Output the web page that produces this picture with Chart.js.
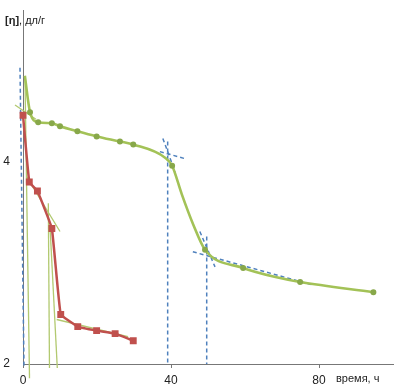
<!DOCTYPE html>
<html>
<head>
<meta charset="utf-8">
<script src="https://cdn.jsdelivr.net/npm/chart.js@4"></script>
<style>
html,body{margin:0;padding:0;background:#fff;}
#wrap{position:relative;width:413px;height:392px;}
</style>
</head>
<body>
<div id="wrap"><canvas id="c" width="413" height="392"></canvas></div>
<script>
// ---- data (x: время, ч ; y: [η], дл/г) ----
const xTicks = [0, 40, 80];
const yTicks = [2, 4];

const greenX = [0.5, 1.9, 4.1, 7.8, 10.0, 14.7, 19.9, 26.2, 29.8, 38.4, 40.3, 42.9, 46.0, 49.2, 59.5, 69.5, 74.9, 94.7];
const greenY = [4.85, 4.49, 4.39, 4.38, 4.35, 4.30, 4.25, 4.20, 4.17, 4.04, 3.96, 3.68, 3.38, 3.13, 2.95, 2.85, 2.81, 2.71];
const greenMarks = [false, true, true, true, true, true, true, true, true, false, true, false, false, true, true, false, true, true];

const redX = [0, 1.7, 3.9, 7.8, 10.2, 14.8, 19.9, 24.9, 29.8];
const redY = [4.46, 3.80, 3.71, 3.34, 2.49, 2.37, 2.33, 2.30, 2.23];

// tangent construction lines (pairs of [x, y] in data units)
const greenTangents = [
  [[0.54, 4.81], [1.76, 1.86]],
  [[1.0, 3.85], [10.0, 3.31]],
  [[6.84, 3.59], [7.16, 1.96]],
  [[7.3, 3.36], [9.27, 1.96]],
  [[9.1, 2.44], [28.4, 2.27]],
  [[-2.16, 4.56], [3.5, 4.42]]
];
const blueTangents = [
  [[-0.81, 4.93], [0.27, 1.97]],
  [[39.1, 4.20], [39.1, 2.0]],
  [[49.65, 3.26], [49.65, 2.0]],
  [[37.8, 4.23], [41.1, 3.90]],
  [[37.0, 4.10], [43.8, 4.03]],
  [[45.9, 3.11], [78.4, 2.78]],
  [[47.8, 3.31], [51.9, 2.96]]
];

const yTitleBold = '[η]';
const yTitleRest = ', дл/г';
const xTitle = 'время, ч';

const FONT = '"Liberation Sans", Arial, sans-serif';

const toPts = (xs, ys) => xs.map((x, i) => ({x: x, y: ys[i]}));

const datasets = [];
blueTangents.forEach(seg => datasets.push({
  data: seg.map(p => ({x: p[0], y: p[1]})),
  showLine: true, borderColor: '#4F81BD', borderWidth: 1.5, borderDash: [4, 3],
  pointRadius: 0, clip: false, order: 3
}));
greenTangents.forEach(seg => datasets.push({
  data: seg.map(p => ({x: p[0], y: p[1]})),
  showLine: true, borderColor: '#B2C970', borderWidth: 1.3,
  pointRadius: 0, clip: false, order: 2
}));
datasets.push({
  data: toPts(redX, redY), showLine: true, borderColor: '#C0504D', borderWidth: 2.5,
  tension: 0.08, pointStyle: 'rect', pointRadius: 3.1,
  pointBackgroundColor: '#C0504D', pointBorderColor: '#C0504D', clip: false, order: 1
});
datasets.push({
  data: toPts(greenX, greenY), showLine: true, borderColor: '#A3C257', borderWidth: 2.6,
  cubicInterpolationMode: 'monotone',
  pointRadius: greenMarks.map(m => m ? 1.7 : 0),
  pointBackgroundColor: '#88A84A', pointBorderColor: '#88A84A', clip: false, order: 0
});

const titles = {
  id: 'titles',
  afterDraw(chart) {
    const ctx = chart.ctx;
    ctx.save();
    ctx.fillStyle = '#222';
    ctx.textBaseline = 'middle';
    ctx.textAlign = 'left';
    ctx.font = 'bold 11px ' + FONT;
    ctx.fillText(yTitleBold, 5, 21);
    const w = ctx.measureText(yTitleBold).width;
    ctx.font = '11px ' + FONT;
    ctx.fillText(yTitleRest, 5 + w, 21);
    ctx.font = '11px ' + FONT;
    ctx.fillText(xTitle, 336, 379);
    ctx.restore();
  }
};

new Chart(document.getElementById('c'), {
  type: 'scatter',
  data: {datasets: datasets},
  options: {
    responsive: false, animation: false,
    layout: {padding: {left: 0, right: 20, top: 10, bottom: 0}},
    plugins: {legend: {display: false}, tooltip: {enabled: false}},
    scales: {
      x: {
        type: 'linear', min: 0, max: 100,
        afterFit: s => { s.height = 28; s.paddingLeft = 0; s.paddingRight = 0; },
        afterBuildTicks: s => { s.ticks = xTicks.map(v => ({value: v})); },
        grid: {display: true, drawOnChartArea: false, drawTicks: true, tickLength: 4, color: '#777'},
        border: {display: true, color: '#777', width: 1},
        ticks: {padding: 5, color: '#222', font: {family: FONT, size: 12}, maxRotation: 0}
      },
      y: {
        type: 'linear', min: 2, max: 5.5,
        afterFit: s => { s.width = 23; s.paddingTop = 0; s.paddingBottom = 0; },
        afterBuildTicks: s => { s.ticks = yTicks.map(v => ({value: v})); },
        grid: {display: false, drawTicks: false},
        border: {display: true, color: '#777', width: 1},
        ticks: {padding: 13, color: '#222', font: {family: FONT, size: 12}}
      }
    }
  },
  plugins: [titles]
});
</script>
</body>
</html>
